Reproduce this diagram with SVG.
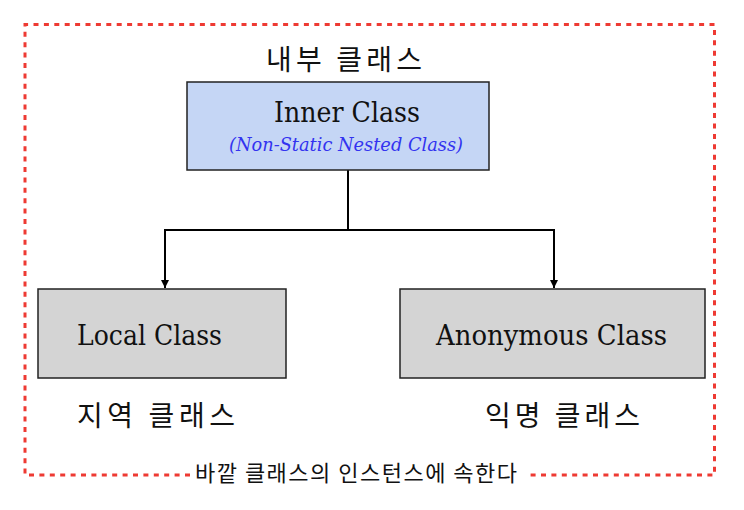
<svg xmlns="http://www.w3.org/2000/svg" width="744" height="510" viewBox="0 0 744 510">
<defs>
<style>
.box{stroke:#222;stroke-width:1.5}
.blue{fill:#c5d6f5}
.gray{fill:#d4d4d4}
.serif{font-family:"DejaVu Serif","Liberation Serif",serif;fill:#111}
.kr{font-family:"Noto Sans CJK KR","Noto Sans",sans-serif;fill:#111}
.conn{fill:none;stroke:#000;stroke-width:2}
.frame{fill:none;stroke:#ee3a33;stroke-width:3;stroke-dasharray:5 5.4}
</style>
<marker id="arr" markerWidth="10" markerHeight="10" refX="8" refY="5" orient="auto" markerUnits="userSpaceOnUse">
<path d="M0,1 L8,5 L0,9 Z" fill="#000"/>
</marker>
</defs>
<rect width="744" height="510" fill="#fff"/>
<g id="frame">
<path class="frame" d="M190,475 L25,475 L25,24.5 L714.5,24.5 L714.5,475 L530,475"/>
<text class="kr" x="195" y="481" font-size="22" textLength="322" lengthAdjust="spacing">바깥 클래스의 인스턴스에 속한다</text>
</g>
<g id="connectors">
<path class="conn" d="M348,170 L348,230"/>
<path class="conn" d="M165,230 L554,230"/>
<path class="conn" d="M165,229 L165,288" marker-end="url(#arr)"/>
<path class="conn" d="M554,229 L554,288" marker-end="url(#arr)"/>
</g>
<g id="inner">
<text class="kr" x="266" y="70" font-size="28" textLength="156" lengthAdjust="spacing">내부 클래스</text>
<rect class="box blue" x="187" y="82" width="302" height="88"/>
<text class="serif" x="274" y="121.5" font-size="27" textLength="146" lengthAdjust="spacingAndGlyphs">Inner Class</text>
<text class="serif" x="229" y="150.5" font-size="19" font-style="italic" style="fill:#3333f0" textLength="234" lengthAdjust="spacingAndGlyphs">(Non-Static Nested Class)</text>
</g>
<g id="local">
<rect class="box gray" x="38" y="289" width="248" height="89"/>
<text class="serif" x="77" y="345" font-size="27" textLength="145" lengthAdjust="spacingAndGlyphs">Local Class</text>
<text class="kr" x="77" y="426" font-size="28" textLength="158" lengthAdjust="spacing">지역 클래스</text>
</g>
<g id="anonymous">
<rect class="box gray" x="400" y="289" width="305" height="89"/>
<text class="serif" x="436" y="344.5" font-size="27" textLength="231" lengthAdjust="spacingAndGlyphs">Anonymous Class</text>
<text class="kr" x="485" y="426" font-size="28" textLength="155" lengthAdjust="spacing">익명 클래스</text>
</g>
</svg>
